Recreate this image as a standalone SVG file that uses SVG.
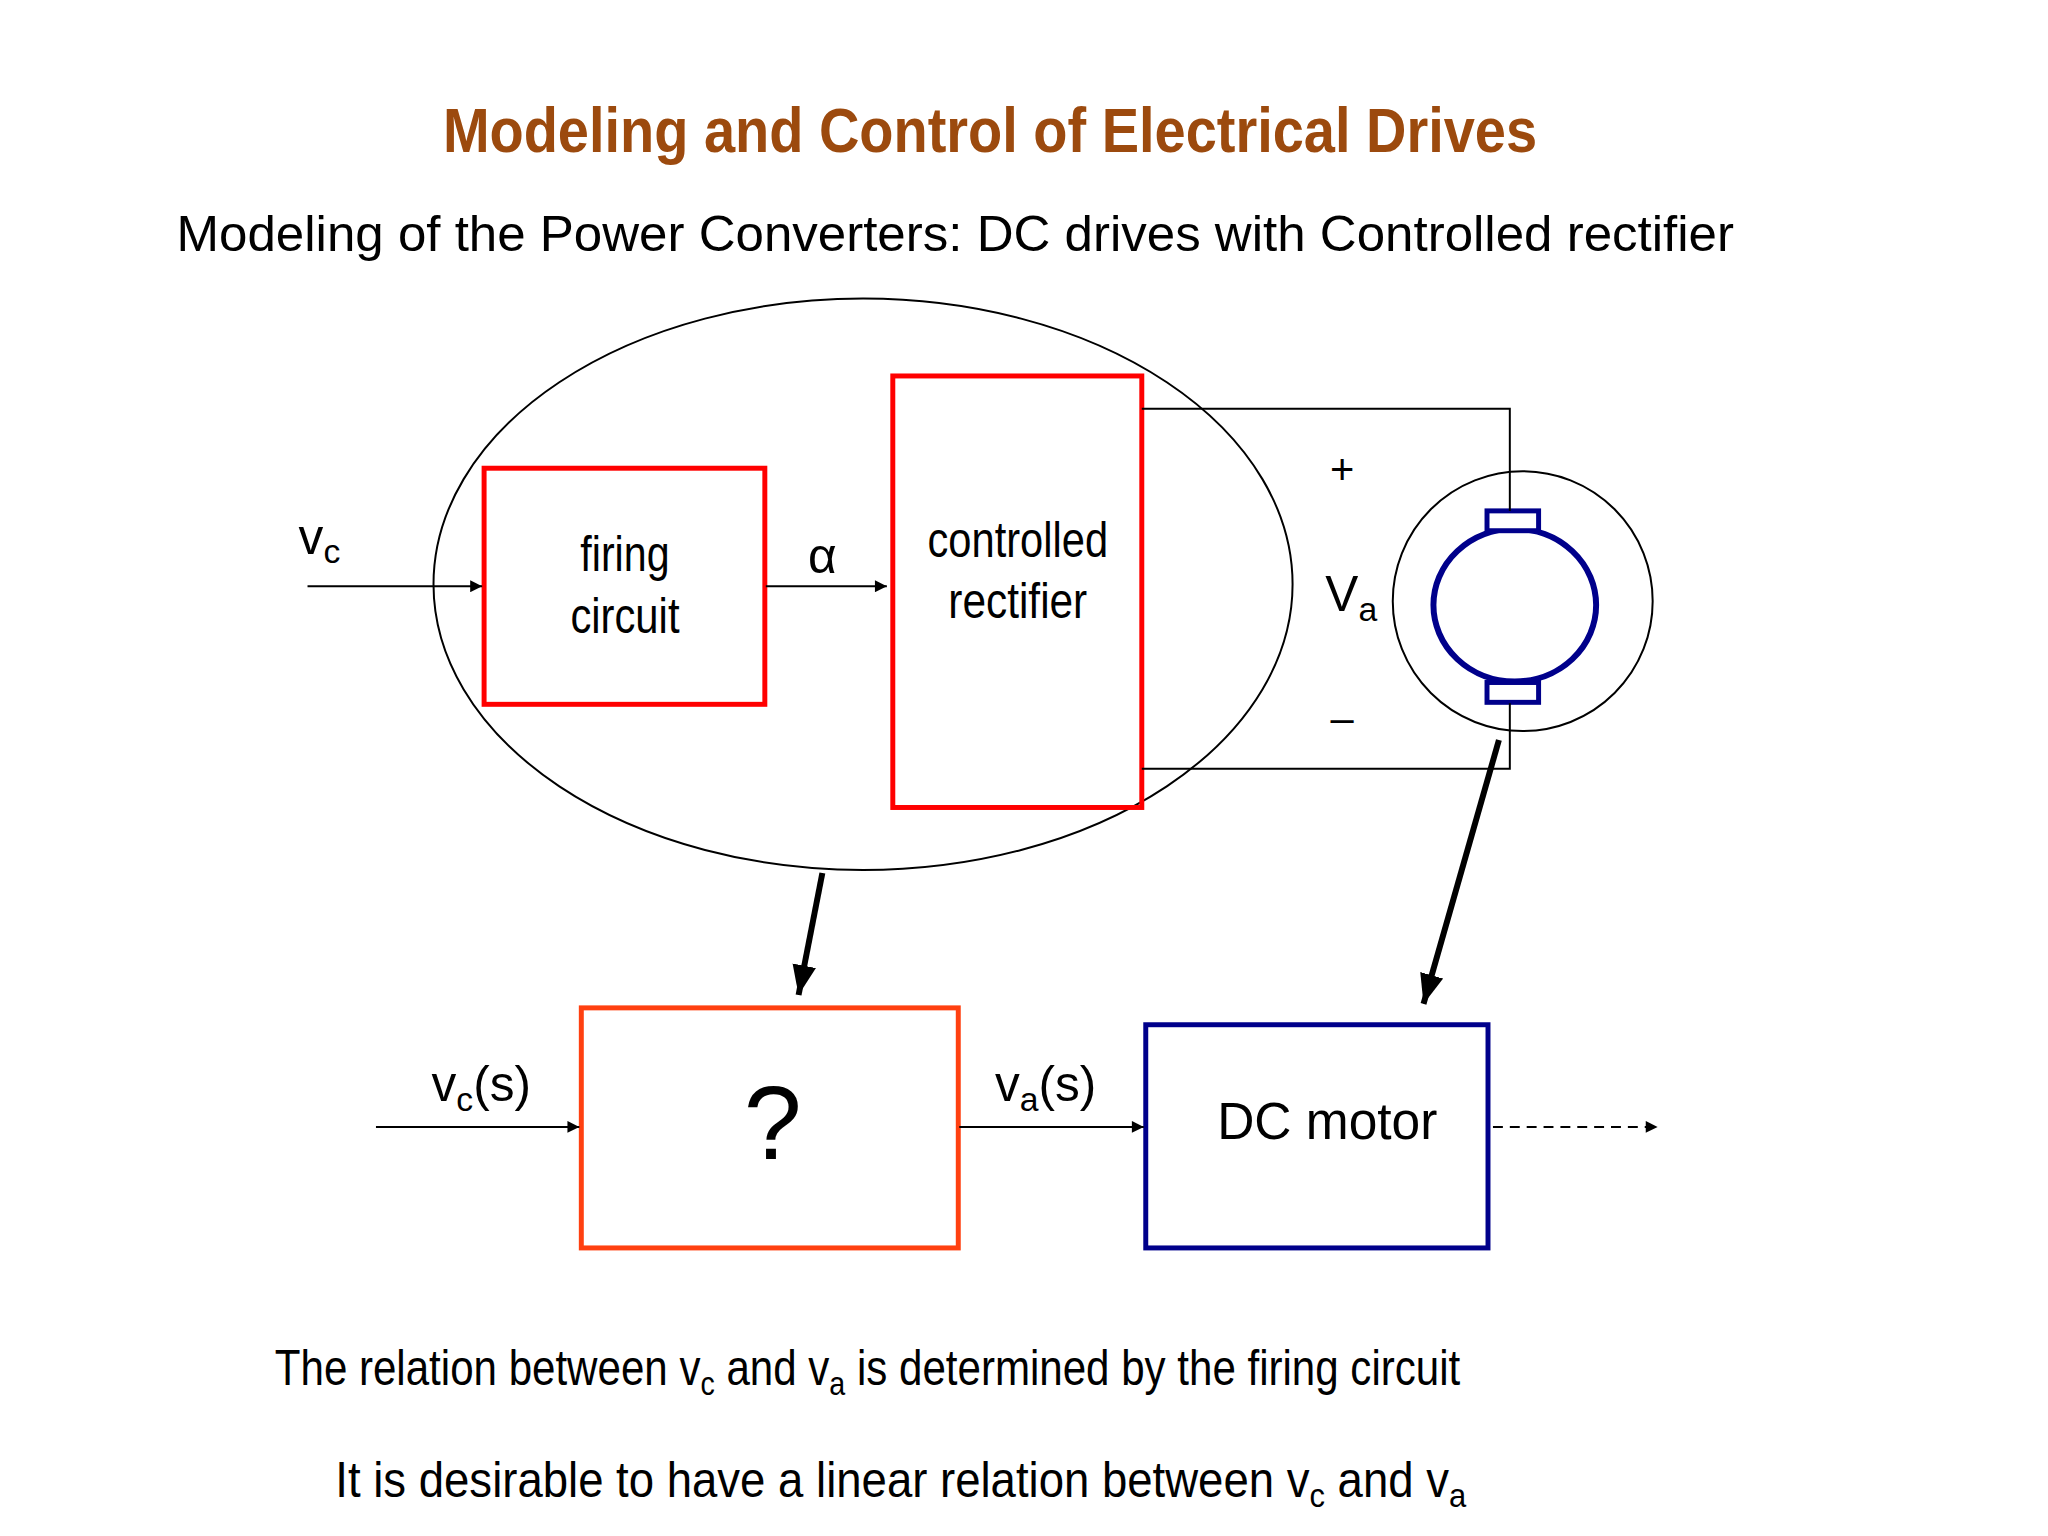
<svg xmlns="http://www.w3.org/2000/svg" width="2048" height="1536" viewBox="0 0 2048 1536">
<style>
text{font-family:"Liberation Sans",Arial,sans-serif;fill:#000}
.n{font-size:50px}
.w{fill:none;stroke:#000;stroke-width:2}
</style>
<defs>
<marker id="a" viewBox="0 0 10 10" refX="10" refY="5" markerWidth="16" markerHeight="12" markerUnits="userSpaceOnUse" orient="auto"><path d="M0,0L10,5L0,10z"/></marker>
<marker id="b" viewBox="0 0 10 10" refX="10" refY="5" markerWidth="5" markerHeight="5" orient="auto"><path d="M0,1L10,5L0,9z"/></marker>
</defs>
<rect width="2048" height="1536" fill="#fff"/>
<g transform="scale(0.992)">
<text x="998" y="153" text-anchor="middle" font-size="64" font-weight="bold" style="fill:#9C4A0E" textLength="1103" lengthAdjust="spacingAndGlyphs">Modeling and Control of Electrical Drives</text>
<text x="178" y="253" font-size="50" textLength="1570" lengthAdjust="spacingAndGlyphs">Modeling of the Power Converters: DC drives with Controlled rectifier</text>
<g id="ellipse"><ellipse cx="870" cy="589" rx="433" ry="288" class="w"/></g>
<g id="firing"><rect x="488" y="472" width="283" height="238" fill="none" stroke="#F00" stroke-width="5"/>
<text x="630" y="576" text-anchor="middle" class="n" textLength="90" lengthAdjust="spacingAndGlyphs">firing</text>
<text x="630" y="638" text-anchor="middle" class="n" textLength="110" lengthAdjust="spacingAndGlyphs">circuit</text></g>
<g id="rectifier"><rect x="900" y="379" width="251" height="435" fill="none" stroke="#F00" stroke-width="5"/>
<text x="1026" y="561" text-anchor="middle" class="n" textLength="182" lengthAdjust="spacingAndGlyphs">controlled</text>
<text x="1026" y="623" text-anchor="middle" class="n" textLength="140" lengthAdjust="spacingAndGlyphs">rectifier</text></g>
<g id="motor">
<circle cx="1535" cy="606" r="131" class="w"/>
<ellipse cx="1527" cy="610" rx="82" ry="77" fill="none" stroke="#00008B" stroke-width="6"/>
<rect x="1499" y="515" width="52" height="20" fill="#fff" stroke="#00008B" stroke-width="5"/>
<rect x="1499" y="688" width="52" height="20" fill="#fff" stroke="#00008B" stroke-width="5"/>
</g>
<g id="qbox"><rect x="586" y="1016" width="380" height="242" fill="none" stroke="#FF4010" stroke-width="5"/>
<text x="779" y="1168" text-anchor="middle" font-size="105">?</text></g>
<g id="dcmotor"><rect x="1155" y="1033" width="345" height="225" fill="none" stroke="#00008B" stroke-width="5"/>
<text x="1338" y="1148" text-anchor="middle" font-size="52" textLength="222" lengthAdjust="spacingAndGlyphs">DC motor</text></g>
<g id="connectors">
<path class="w" d="M1151,412H1522V515M1151,775H1522V709"/>
<line x1="310" y1="591" x2="486" y2="591" class="w" marker-end="url(#a)"/>
<line x1="772" y1="591" x2="894" y2="591" class="w" marker-end="url(#a)"/>
<line x1="379" y1="1136" x2="584" y2="1136" class="w" marker-end="url(#a)"/>
<line x1="967" y1="1136" x2="1153" y2="1136" class="w" marker-end="url(#a)"/>
<line x1="1505" y1="1136" x2="1671" y2="1136" class="w" stroke-dasharray="10,7" marker-end="url(#a)"/>
<line x1="829" y1="880" x2="805" y2="1003" stroke="#000" stroke-width="6" marker-end="url(#b)"/>
<line x1="1511" y1="746" x2="1435" y2="1012" stroke="#000" stroke-width="6" marker-end="url(#b)"/>
</g>
<g id="labels">
<text x="301" y="558" class="n">v<tspan font-size="34" dy="10">c</tspan></text>
<text x="829" y="578" text-anchor="middle" class="n">α</text>
<text x="1353" y="488" text-anchor="middle" font-size="42">+</text>
<text x="1336" y="616" class="n">V<tspan font-size="34" dy="10">a</tspan></text>
<text x="1353" y="738" text-anchor="middle" font-size="42">–</text>
<text x="435" y="1110" class="n">v<tspan font-size="34" dy="10">c</tspan><tspan dy="-10">(s)</tspan></text>
<text x="1003" y="1110" class="n">v<tspan font-size="34" dy="10">a</tspan><tspan dy="-10">(s)</tspan></text>
<text x="277" y="1396" font-size="50" textLength="1195" lengthAdjust="spacingAndGlyphs">The relation between v<tspan font-size="34" dy="10">c</tspan><tspan dy="-10"> and v</tspan><tspan font-size="34" dy="10">a</tspan><tspan dy="-10"> is determined by the firing circuit</tspan></text>
<text x="338" y="1509" font-size="50" textLength="1140" lengthAdjust="spacingAndGlyphs">It is desirable to have a linear relation between v<tspan font-size="34" dy="10">c</tspan><tspan dy="-10"> and v</tspan><tspan font-size="34" dy="10">a</tspan></text>
</g>
</g>
</svg>
